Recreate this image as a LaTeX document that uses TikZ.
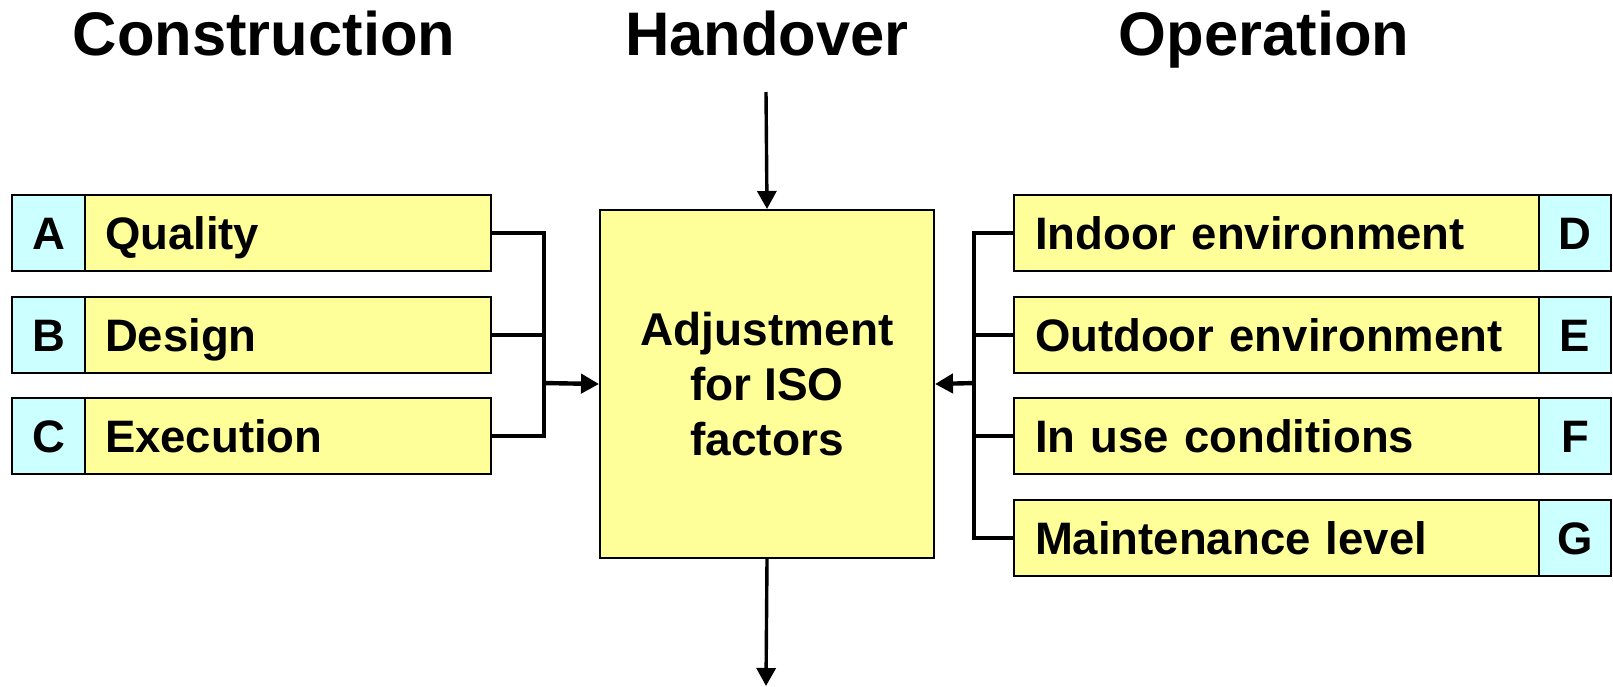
\documentclass[tikz,border=0pt]{standalone}
\usepackage{fontspec}
\setmainfont{Liberation Sans}
\usetikzlibrary{arrows.meta}
\definecolor{boxyellow}{HTML}{FFFF99}
\definecolor{boxcyan}{HTML}{CCFFFF}
\tikzset{
  ybox/.style={draw=black, line width=2pt, fill=boxyellow, rectangle, anchor=north west,
    minimum height=76pt, text height=33pt, text depth=0pt, align=left,
    font=\fontsize{45.5}{55}\selectfont\bfseries},
  cbox/.style={draw=black, line width=2pt, fill=boxcyan, rectangle, anchor=north west,
    minimum height=76pt, inner sep=0pt, text height=33pt, text depth=0pt,
    font=\fontsize{45.5}{55}\selectfont\bfseries},
  mainbox/.style={draw=black, line width=2pt, fill=boxyellow, rectangle, anchor=north west,
    minimum width=334pt, minimum height=348pt, align=center, inner sep=0pt,
    font=\fontsize{46}{55}\selectfont\bfseries},
  title/.style={anchor=base, font=\fontsize{61.5}{64}\selectfont\bfseries},
  conn/.style={draw=black, line width=3.4pt},
  arr/.style={conn, -{Triangle[length=18pt,width=19pt]}},
  harr/.style={arr, line width=4.4pt, -{Triangle[length=18pt,width=19pt]}}
}
\begin{document}
\begin{tikzpicture}[x=1pt,y=-1pt]
\useasboundingbox (0,0) rectangle (1613,687);
% titles
\node[title] (tcon) at (264,56) {Construction};
\node[title] (thand) at (767,56) {Handover};
\node[title] (toper) at (1264,56) {Operation};
% left boxes
\node[cbox, minimum width=73pt] (la) at (11,194) {A};
\node[ybox, minimum width=406pt, text width=366pt, inner xsep=20pt, inner ysep=0pt] (qa) at (84,194) {Quality};
\node[cbox, minimum width=73pt] (lb) at (11,296) {B};
\node[ybox, minimum width=406pt, text width=366pt, inner xsep=20pt, inner ysep=0pt] (qb) at (84,296) {Design};
\node[cbox, minimum width=73pt] (lc) at (11,397) {C};
\node[ybox, minimum width=406pt, text width=366pt, inner xsep=20pt, inner ysep=0pt] (qc) at (84,397) {Execution};
% main box
\node[mainbox] (main) at (599,209) {Adjustment\\for ISO\\factors};
% right boxes
\node[ybox, minimum width=525pt, text width=483pt, inner xsep=21pt, inner ysep=0pt] (qd) at (1013,194) {Indoor environment};
\node[cbox, minimum width=72pt] (ld) at (1538,194) {D};
\node[ybox, minimum width=525pt, text width=483pt, inner xsep=21pt, inner ysep=0pt] (qe) at (1013,296) {Outdoor environment};
\node[cbox, minimum width=72pt] (le) at (1538,296) {E};
\node[ybox, minimum width=525pt, text width=483pt, inner xsep=21pt, inner ysep=0pt] (qf) at (1013,397) {In use conditions};
\node[cbox, minimum width=72pt] (lf) at (1538,397) {F};
\node[ybox, minimum width=525pt, text width=483pt, inner xsep=21pt, inner ysep=0pt] (qg) at (1013,499) {Maintenance level};
\node[cbox, minimum width=72pt] (lg) at (1538,499) {G};
% junctions
\coordinate (jl) at (544,383);
\coordinate (jr) at (974,383);
\coordinate (htop) at (766,92);
\coordinate (hbot) at (766,686);
% connectors
\draw[conn] (qa.east) -| (jl);
\draw[conn] (qb.east) -| (jl);
\draw[conn] (qc.east) -| (jl);
\draw[harr] ([xshift=-1.7pt]jl) -- (main.west);
\draw[conn] (qd.west) -| (jr);
\draw[conn] (qe.west) -| (jr);
\draw[conn] (qf.west) -| (jr);
\draw[conn] (qg.west) -| (jr);
\draw[harr] ([xshift=1.7pt]jr) -- (main.east);
\draw[arr] (htop) -- (main.north);
\draw[arr] (main.south) -- (hbot);
\end{tikzpicture}
\end{document}
